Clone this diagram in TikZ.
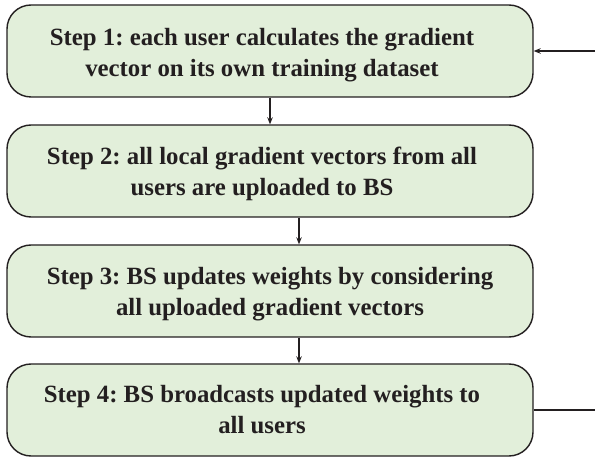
\documentclass[tikz,border=0pt]{standalone}
\usepackage{fontspec}
\setmainfont{Liberation Serif}
\usetikzlibrary{arrows.meta}
\definecolor{boxfill}{HTML}{E2EFDA}
\definecolor{boxline}{HTML}{231F20}
\begin{document}
\frenchspacing
\begin{tikzpicture}[x=1pt,y=1pt,
  stepbox/.style={draw=boxline, line width=1.4pt, fill=boxfill, rounded corners=24pt,
    minimum width=526pt, minimum height=92pt, inner sep=0pt},
  steptext/.style={align=center, inner sep=0pt,
    font=\bfseries\fontsize{24.8}{31}\selectfont, text=boxline},
  link/.style={draw=boxline, line width=1.1pt},
  conn/.style={link, -{Stealth[length=7pt,width=5.5pt]}}]
\useasboundingbox (0,0) rectangle (595,-457);
\node[stepbox] (s1) at (270,-51) {};
\node[stepbox] (s2) at (270,-171) {};
\node[stepbox] (s3) at (270,-291) {};
\node[stepbox] (s4) at (270,-410) {};
\node[steptext] (t1) at ([shift={(-8,-4)}]s1.center) {Step 1: each user calculates the gradient\\vector on its own training dataset};
\node[steptext] (t2) at ([shift={(-8,-3)}]s2.center) {Step 2: all local gradient vectors from all\\users are uploaded to BS};
\node[steptext] (t3) at ([shift={(0,-3)}]s3.center) {Step 3: BS updates weights by considering\\all uploaded gradient vectors};
\node[steptext] (t4) at ([shift={(-8,0)}]s4.center) {Step 4: BS broadcasts updated weights to\\all users};
\coordinate (r4) at (595,-410);
\coordinate (r1) at (595,-51);
\draw[conn] (s1.south) -- (s2.north);
\draw[conn] ([xshift=29pt]s2.south) -- ([xshift=29pt]s3.north);
\draw[conn] ([xshift=29pt]s3.south) -- ([xshift=29pt]s4.north);
\draw[link] (s4.east) -- (r4);
\draw[conn] (r1) -- (s1.east);
\end{tikzpicture}
\end{document}
